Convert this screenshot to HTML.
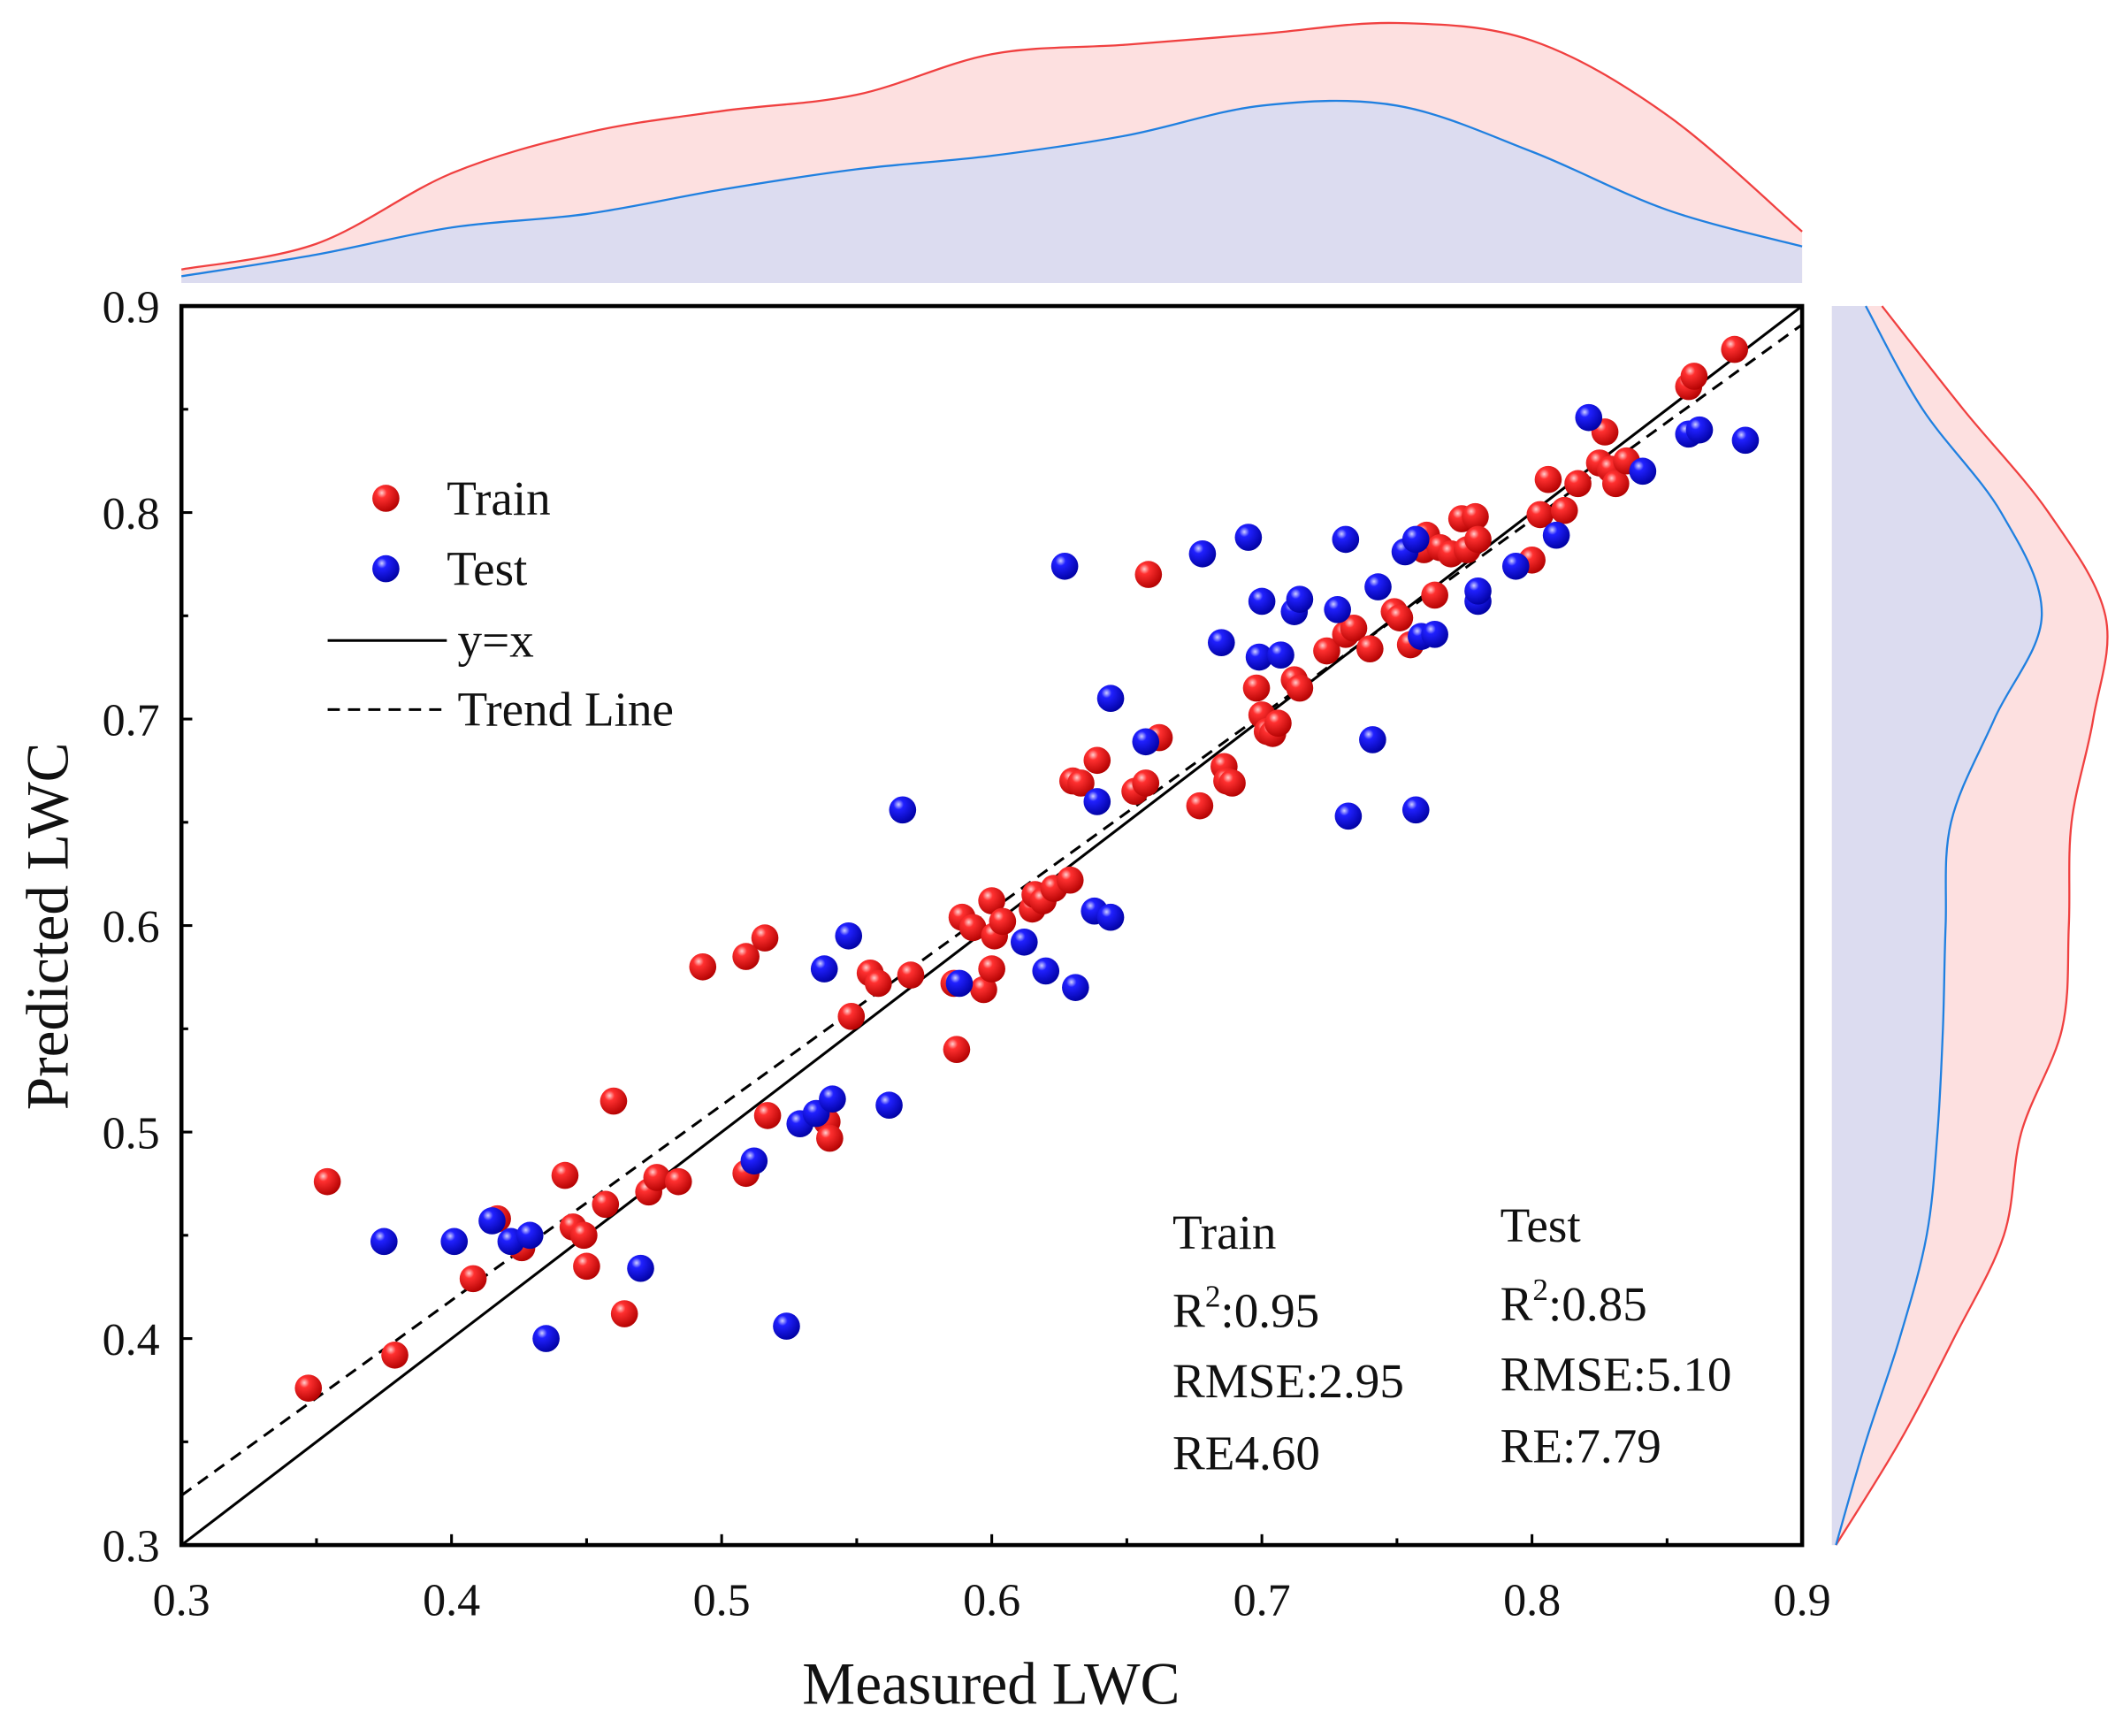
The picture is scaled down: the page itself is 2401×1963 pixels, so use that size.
<!DOCTYPE html>
<html><head><meta charset="utf-8"><style>html,body{margin:0;padding:0;background:#fff}svg{display:block}text{font-family:"Liberation Serif",serif;fill:#111}</style></head>
<body>
<svg id="chart" xmlns="http://www.w3.org/2000/svg" width="2401" height="1963" viewBox="0 0 1568 1282" preserveAspectRatio="none">
<defs>
<radialGradient id="gr" cx="0.35" cy="0.3" r="0.75"><stop offset="0" stop-color="#ffd0d0"/><stop offset="0.25" stop-color="#ff3030"/><stop offset="1" stop-color="#b00000"/></radialGradient>
<radialGradient id="gb" cx="0.35" cy="0.3" r="0.75"><stop offset="0" stop-color="#d0d0ff"/><stop offset="0.25" stop-color="#2020ff"/><stop offset="1" stop-color="#0000a0"/></radialGradient>
<clipPath id="clip"><rect x="134" y="226" width="1197" height="915"/></clipPath>
</defs>
<g id="top-density"></g>
<g id="right-density"></g>
<g id="lines" clip-path="url(#clip)"></g>
<g id="points"></g>
<rect x="134" y="226" width="1197" height="915" fill="none" stroke="#000" stroke-width="3"/>
<g id="axes"></g>
<text x="732" y="1258" font-size="44" text-anchor="middle">Measured LWC</text>
<text transform="translate(50,684) rotate(-90)" font-size="44" text-anchor="middle">Predicted LWC</text>
<g>
<circle cx="285" cy="368" r="10" fill="url(#gr)"/>
<text x="330" y="380" font-size="36">Train</text>
<circle cx="285" cy="420" r="10" fill="url(#gb)"/>
<text x="330" y="432" font-size="36">Test</text>
<line x1="242" y1="473" x2="330" y2="473" stroke="#000" stroke-width="2"/>
<text x="338" y="485" font-size="36">y=x</text>
<line x1="242" y1="524" x2="330" y2="524" stroke="#000" stroke-width="2" stroke-dasharray="9,6"/>
<text x="338" y="536" font-size="36">Trend Line</text>
</g>
<g font-size="36">
<text x="866" y="922">Train</text>
<text x="866" y="980">R<tspan font-size="23" dy="-15">2</tspan><tspan dy="15">:0.95</tspan></text>
<text x="866" y="1032">RMSE:2.95</text>
<text x="866" y="1085">RE4.60</text>
</g>
<g font-size="36">
<text x="1108" y="917">Test</text>
<text x="1108" y="975">R<tspan font-size="23" dy="-15">2</tspan><tspan dy="15">:0.85</tspan></text>
<text x="1108" y="1027">RMSE:5.10</text>
<text x="1108" y="1080">RE:7.79</text>
</g>
</svg>
<script>
const trainX=[.347,.379,.354,.408,.417,.426,.442,.445,.449,.450,.457,.460,.464,.473,.476,.484,.493,.509,.509,.516,.517,.539,.540,.548,.555,.558,.570,.587,.586,.589,.593,.597,.600,.600,.601,.604,.615,.616,.619,.623,.629,.630,.633,.639,.653,.657,.658,.662,.677,.686,.687,.689,.698,.700,.702,.704,.706,.712,.714,.724,.731,.734,.740,.749,.751,.755,.760,.761,.764,.766,.770,.774,.776,.779,.780,.800,.803,.806,.812,.817,.825,.827,.829,.831,.835,.858,.860,.875];
const trainY=[.376,.392,.476,.429,.458,.444,.479,.454,.450,.435,.465,.515,.412,.471,.478,.476,.580,.480,.585,.594,.508,.505,.497,.556,.577,.572,.576,.540,.572,.604,.599,.569,.612,.579,.595,.602,.608,.615,.612,.618,.622,.670,.669,.680,.665,.669,.770,.691,.658,.677,.670,.669,.715,.702,.694,.693,.698,.719,.715,.733,.741,.744,.734,.752,.749,.736,.782,.789,.760,.783,.780,.797,.782,.798,.787,.777,.799,.816,.801,.814,.824,.839,.821,.814,.825,.861,.866,.879];
const testX=[.375,.401,.415,.422,.429,.435,.470,.512,.524,.529,.535,.541,.562,.538,.547,.567,.588,.612,.620,.631,.627,.639,.638,.644,.644,.657,.678,.685,.695,.700,.699,.707,.712,.714,.728,.731,.732,.741,.743,.753,.757,.757,.759,.764,.780,.780,.794,.809,.821,.841,.858,.862,.879];
const testY=[.447,.447,.457,.447,.450,.400,.434,.486,.406,.504,.509,.516,.513,.579,.595,.656,.572,.592,.578,.570,.774,.660,.607,.604,.710,.689,.780,.737,.788,.757,.730,.731,.752,.758,.753,.787,.653,.690,.764,.781,.787,.656,.740,.741,.757,.762,.774,.789,.846,.820,.838,.840,.835];
const trendSlope=0.945, trendIntercept=0.0405;
const ticks=[0.3,0.4,0.5,0.6,0.7,0.8,0.9];
const tickLabels=["0.3","0.4","0.5","0.6","0.7","0.8","0.9"];
const densGrid=[0.30,0.35,0.40,0.45,0.50,0.55,0.60,0.65,0.70,0.75,0.80,0.85,0.90];
const topRed=[10,29,81,111,127,139,169,176,184,192,179,124,38];
const topBlue=[5,21,41,51,69,84,94,109,131,131,97,54,27];
const rightRed=[3,50,90,127,140,170,175,177,193,202,160,97,37];
const rightBlue=[3,25,50,70,78,82,84,88,120,155,125,67,25];

const NS="http://www.w3.org/2000/svg";
const X0=134,X1=1331,Y0=1141,Y1=226;
function sx(v){return X0+(v-0.3)/0.6*(X1-X0);}
function sy(v){return Y0-(v-0.3)/0.6*(Y0-Y1);}
function mk(tag,attrs,parent){const e=document.createElementNS(NS,tag);for(const k in attrs)e.setAttribute(k,attrs[k]);parent.appendChild(e);return e;}
function smooth(pts){let d="M"+pts[0][0]+","+pts[0][1];for(let i=0;i<pts.length-1;i++){const p0=pts[Math.max(0,i-1)],p1=pts[i],p2=pts[i+1],p3=pts[Math.min(pts.length-1,i+2)];const c1=[p1[0]+(p2[0]-p0[0])/6,p1[1]+(p2[1]-p0[1])/6],c2=[p2[0]-(p3[0]-p1[0])/6,p2[1]-(p3[1]-p1[1])/6];d+=" C"+c1[0]+","+c1[1]+" "+c2[0]+","+c2[1]+" "+p2[0]+","+p2[1];}return d;}

const ax=document.getElementById('axes');
ticks.forEach((t,i)=>{
  const l1=mk('line',{x1:sx(t),x2:sx(t),y1:Y0,y2:Y0-8,stroke:'#000','stroke-width':2},ax);
  
  
  const l2=mk('line',{x1:X0,x2:X0+8,y1:sy(t),y2:sy(t),stroke:'#000','stroke-width':2},ax);
  
  
  const tx=mk('text',{x:sx(t),y:1193,'font-size':34,'text-anchor':'middle'},ax);tx.textContent=tickLabels[i];
  
  
  const ty=mk('text',{x:118,y:sy(t)+12,'font-size':34,'text-anchor':'end'},ax);ty.textContent=tickLabels[i];
  
  
  if(i<ticks.length-1){const m=t+0.05;
    const a=mk('line',{x1:sx(m),x2:sx(m),y1:Y0,y2:Y0-5,stroke:'#000','stroke-width':2},ax);
    
    
    const b=mk('line',{x1:X0,x2:X0+5,y1:sy(m),y2:sy(m),stroke:'#000','stroke-width':2},ax);
    
    }
});

const lg=document.getElementById('lines');
const yx=mk('line',{x1:sx(0.3),y1:sy(0.3),x2:sx(0.9),y2:sy(0.9),stroke:'#000','stroke-width':2},lg);


const tr=mk('line',{x1:sx(0.3),y1:sy(trendIntercept+trendSlope*0.3),x2:sx(0.9),y2:sy(trendIntercept+trendSlope*0.9),stroke:'#000','stroke-width':2,'stroke-dasharray':'9,6'},lg);



const pg=document.getElementById('points');
trainX.forEach((x,i)=>{const c=mk('circle',{cx:sx(x),cy:sy(trainY[i]),r:10,fill:'url(#gr)'},pg);
  
  });
testX.forEach((x,i)=>{const c=mk('circle',{cx:sx(x),cy:sy(testY[i]),r:10,fill:'url(#gb)'},pg);
  
  });

const TB=209;
const tg=document.getElementById('top-density');
function topPath(h){const pts=densGrid.map((g,i)=>[sx(g),TB-h[i]]);return smooth(pts);}
const rp=topPath(topRed),bp=topPath(topBlue);
const f1=mk('path',{d:rp+" L"+X1+","+TB+" L"+X0+","+TB+" Z",fill:'#fde0e0',stroke:'none'},tg);


const f2=mk('path',{d:bp+" L"+X1+","+TB+" L"+X0+","+TB+" Z",fill:'#dcdcf0',stroke:'none'},tg);


const s1=mk('path',{d:rp,fill:'none',stroke:'#f04040','stroke-width':1.5},tg);


const s2=mk('path',{d:bp,fill:'none',stroke:'#2080e0','stroke-width':1.5},tg);



const RB=1353;
const rg=document.getElementById('right-density');
function rightPath(w){const pts=densGrid.map((g,i)=>[RB+w[i],sy(g)]);return smooth(pts);}
const rrp=rightPath(rightRed),rbp=rightPath(rightBlue);
const g1=mk('path',{d:rrp+" L"+RB+","+Y1+" L"+RB+","+Y0+" Z",fill:'#fde0e0',stroke:'none'},rg);


const g2=mk('path',{d:rbp+" L"+RB+","+Y1+" L"+RB+","+Y0+" Z",fill:'#dcdcf0',stroke:'none'},rg);


const h1=mk('path',{d:rrp,fill:'none',stroke:'#f04040','stroke-width':1.5},rg);


const h2=mk('path',{d:rbp,fill:'none',stroke:'#2080e0','stroke-width':1.5},rg);


</script>
</body></html>
